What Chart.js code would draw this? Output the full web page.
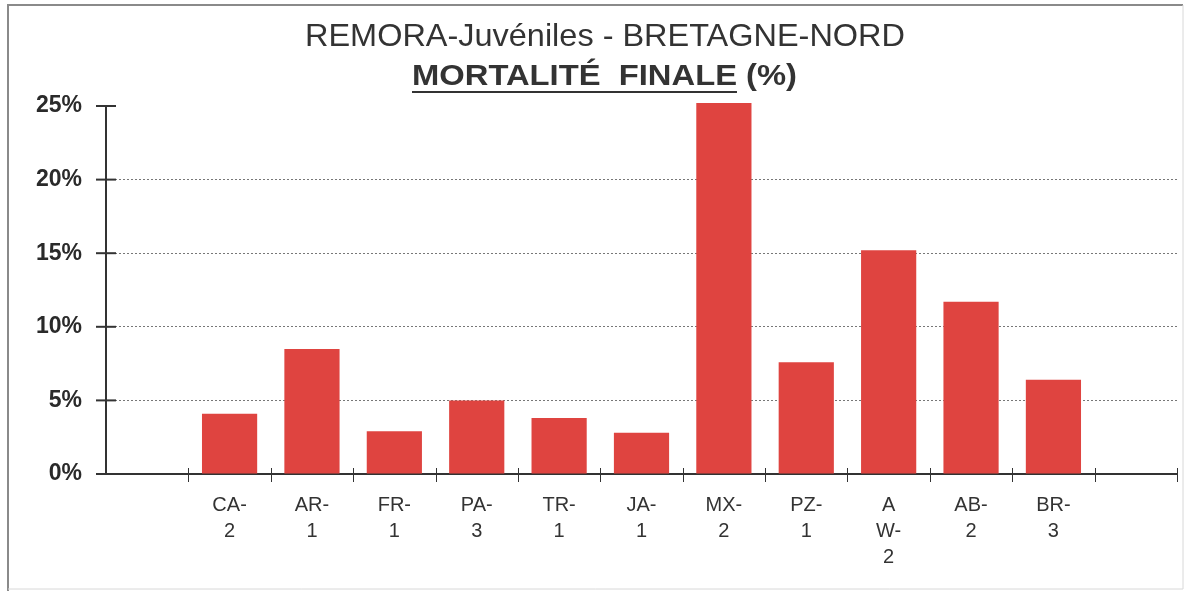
<!DOCTYPE html>
<html>
<head>
<meta charset="utf-8">
<script src="https://cdn.jsdelivr.net/npm/chart.js@4/dist/chart.umd.min.js"></script>
<style>
  html, body { margin: 0; padding: 0; background: #fff; }
  #wrap { position: relative; width: 1184px; height: 591px; }
</style>
</head>
<body>
<div id="wrap"><canvas id="mortChart" width="1184" height="591"></canvas></div>
<script>
/* REMORA-Juvéniles - Bretagne-Nord : mortalité finale */

// categories (empty slots at both ends, as in the original sheet)
var stations = ['', ['CA-', '2'], ['AR-', '1'], ['FR-', '1'], ['PA-', '3'], ['TR-', '1'],
                ['JA-', '1'], ['MX-', '2'], ['PZ-', '1'], ['A', 'W-', '2'], ['AB-', '2'], ['BR-', '3'], ''];
var mortalite = [null, 4.1, 8.5, 2.9, 5.0, 3.8, 2.8, 25.2, 7.6, 15.2, 11.7, 6.4, null];
var yTicks = [0, 5, 10, 15, 20, 25];

var titleLine1 = 'REMORA-Juvéniles - BRETAGNE-NORD';
var titleLine2a = 'MORTALITÉ  FINALE';
var titleLine2b = ' (%)';

var barColor = '#df4440';

// titre + cadre + petites graduations
var decorPlugin = {
    id: 'decor',
    afterDraw: function (chart) {
        var ctx = chart.ctx;
        var xs = chart.scales.x, ys = chart.scales.y;
        ctx.save();

        // cadre
        ctx.strokeStyle = '#8a8a8a';
        ctx.lineWidth = 2;
        ctx.beginPath();
        ctx.moveTo(8, 591); ctx.lineTo(8, 5); ctx.lineTo(1183, 5);
        ctx.stroke();
        ctx.strokeStyle = '#d8d8d8';
        ctx.lineWidth = 1;
        ctx.beginPath();
        ctx.moveTo(1183, 5); ctx.lineTo(1183, 589); ctx.lineTo(8, 589);
        ctx.stroke();

        // titre ligne 1
        ctx.fillStyle = '#333';
        ctx.textBaseline = 'alphabetic';
        ctx.textAlign = 'left';
        ctx.font = '32px "Liberation Sans", Arial, sans-serif';
        var w1 = ctx.measureText(titleLine1).width;
        ctx.save();
        ctx.translate(305, 46);
        ctx.scale(600 / w1, 1);
        ctx.fillText(titleLine1, 0, 0);
        ctx.restore();

        // titre ligne 2
        ctx.font = 'bold 29px "Liberation Sans", Arial, sans-serif';
        var wa = ctx.measureText(titleLine2a).width;
        var wb = ctx.measureText(titleLine2b).width;
        var k = 385 / (wa + wb);
        ctx.save();
        ctx.translate(412, 85);
        ctx.scale(k, 1);
        ctx.fillText(titleLine2a, 0, 0);
        ctx.fillText(titleLine2b, wa, 0);
        ctx.restore();
        ctx.fillRect(412, 91, wa * k, 2);

        // graduations de l'axe Y (traversent l'axe)
        ctx.strokeStyle = '#333';
        ctx.lineWidth = 2;
        yTicks.forEach(function (v) {
            var py = ys.getPixelForValue(v);
            ctx.beginPath();
            ctx.moveTo(xs.left - 10, py);
            ctx.lineTo(xs.left + 10, py);
            ctx.stroke();
        });

        // graduations de l'axe X (entre catégories)
        ctx.lineWidth = 1;
        var half = (xs.getPixelForValue(1) - xs.getPixelForValue(0)) / 2;
        for (var i = 1; i <= stations.length; i++) {
            var px = Math.round(xs.getPixelForValue(i) - half) + 0.5;
            ctx.beginPath();
            ctx.moveTo(px, ys.bottom - 6);
            ctx.lineTo(px, ys.bottom + 8);
            ctx.stroke();
        }
        ctx.restore();
    }
};

document.addEventListener('DOMContentLoaded', function () {
    var canvas = document.getElementById('mortChart');

    new Chart(canvas, {
        type: 'bar',
        data: {
            labels: stations,
            datasets: [{
                data: mortalite,
                backgroundColor: barColor,
                borderWidth: 0,
                barPercentage: 0.67,
                categoryPercentage: 1,
                clip: false
            }]
        },
        options: {
            responsive: false,
            animation: false,
            devicePixelRatio: 1,
            layout: { padding: { top: 106, right: 7, left: 0, bottom: 0 } },
            plugins: {
                legend: { display: false },
                title: { display: false },
                tooltip: { enabled: false }
            },
            scales: {
                x: {
                    offset: true,
                    grid: { display: false, drawTicks: false },
                    border: { display: true, color: '#333', width: 2 },
                    ticks: {
                        autoSkip: false,
                        maxRotation: 0,
                        padding: 18,
                        color: '#333',
                        font: { family: '"Liberation Sans", Arial, sans-serif', size: 20, lineHeight: 1.3 }
                    },
                    afterFit: function (s) { s.height = 117; }
                },
                y: {
                    min: 0,
                    max: 25,
                    afterBuildTicks: function (s) {
                        s.ticks = yTicks.map(function (v) { return { value: v }; });
                    },
                    grid: {
                        drawTicks: false,
                        lineWidth: 1,
                        color: function (c) {
                            var v = c.tick ? c.tick.value : 0;
                            return (v === 0 || v === 25) ? 'rgba(0,0,0,0)' : '#777';
                        }
                    },
                    border: { display: true, color: '#333', width: 2, dash: [2, 2] },
                    ticks: {
                        padding: 24,
                        color: '#2a2a2a',
                        font: { family: '"Liberation Sans", Arial, sans-serif', size: 23, weight: 'bold' },
                        callback: function (v) { return v + '%'; }
                    },
                    afterFit: function (s) { s.width = 106; }
                }
            }
        },
        plugins: [decorPlugin]
    });
});
</script>
</body>
</html>
